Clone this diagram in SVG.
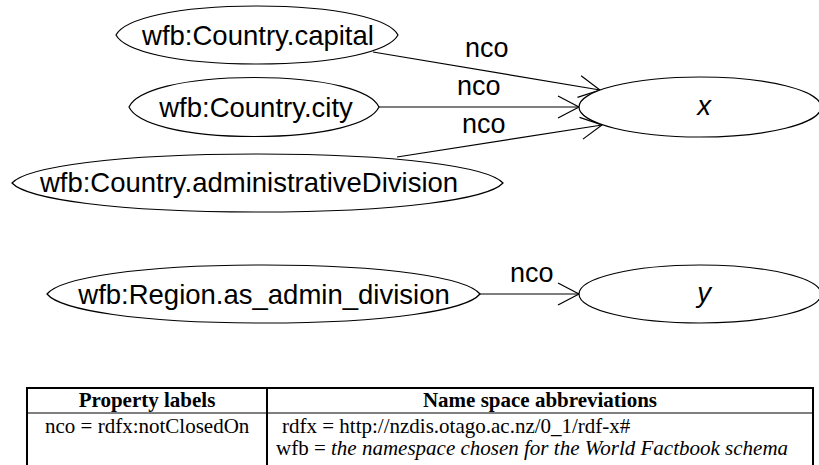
<svg xmlns="http://www.w3.org/2000/svg" width="819" height="465" viewBox="0 0 819 465">
  <style>
    .node ellipse, .node path { fill: #fff; stroke: #000; stroke-width: 1.2; }
    .node text { font-family: "Liberation Sans", Arial, sans-serif; font-size: 27.5px; fill: #000; text-anchor: middle; }
    .node text.var { font-style: italic; }
    .edge line { stroke: #000; stroke-width: 1.2; marker-end: url(#open); }
    .elabel { font-family: "Liberation Sans", Arial, sans-serif; font-size: 27px; fill: #000; }
    .tbl { font-family: "Liberation Serif", "Times New Roman", serif; font-size: 21px; fill: #000; }
    .tbl .hd { font-weight: bold; text-anchor: middle; }
    .rule { stroke: #000; fill: none; }
  </style>
  <defs>
    <!-- open chevron arrowhead -->
    <marker id="open" viewBox="-24 -13 26 26" markerWidth="26" markerHeight="26" refX="0" refY="0" orient="auto" markerUnits="userSpaceOnUse">
      <path d="M-21,-11 L0,0 L-21,11" fill="none" stroke="#000" stroke-width="1.2"/>
    </marker>
  </defs>

  <!-- connectors -->
  <g id="edges" class="edge">
    <line x1="373" y1="52" x2="600" y2="90"/>
    <line x1="379" y1="107" x2="579" y2="107"/>
    <line x1="397" y1="157" x2="602" y2="125"/>
    <line x1="480" y1="294" x2="579" y2="294"/>
  </g>
  <g id="edge-labels" class="elabel">
    <text x="465" y="57">nco</text>
    <text x="457" y="95">nco</text>
    <text x="462" y="133">nco</text>
    <text x="510" y="282">nco</text>
  </g>

  <!-- nodes (property ovals have slightly pointed ends) -->
  <g id="n-capital" class="node">
    <path d="M116,35 C124.46,19.05 175.22,6 257,6 C338.78,6 389.54,19.05 398,35 C389.54,50.95 338.78,64 257,64 C175.22,64 124.46,50.95 116,35Z"/>
    <text x="258" y="45">wfb:Country.capital</text>
  </g>
  <g id="n-city" class="node">
    <path d="M129,107 C136.5,90.775 181.5,77.5 254,77.5 C326.5,77.5 371.5,90.775 379,107 C371.5,123.225 326.5,136.5 254,136.5 C181.5,136.5 136.5,123.225 129,107Z"/>
    <text x="256" y="117">wfb:Country.city</text>
  </g>
  <g id="n-admin" class="node">
    <path d="M12,183 C26.73,167.05 115.11,154 257.5,154 C399.89,154 488.27,167.05 503,183 C488.27,198.95 399.89,212 257.5,212 C115.11,212 26.73,198.95 12,183Z"/>
    <text x="249" y="192">wfb:Country.administrativeDivision</text>
  </g>
  <g id="n-x" class="node">
    <ellipse cx="700" cy="107" rx="121" ry="30"/>
    <text class="var" x="704" y="115">x</text>
  </g>
  <g id="n-region" class="node">
    <path d="M47,294 C59.99,278.05 137.93,265 263.5,265 C389.07,265 467.01,278.05 480,294 C467.01,309.950 389.07,323 263.5,323 C137.93,323 59.99,309.95 47,294Z"/>
    <text x="264" y="304">wfb:Region.as_admin_division</text>
  </g>
  <g id="n-y" class="node">
    <ellipse cx="700" cy="294" rx="121" ry="29"/>
    <text class="var" x="704" y="302">y</text>
  </g>

  <!-- legend table -->
  <g id="legend">
    <line class="rule" x1="26" y1="388" x2="814" y2="388" stroke-width="2"/>
    <line class="rule" x1="27" y1="413" x2="813" y2="413" stroke-width="1"/>
    <line class="rule" x1="27" y1="387" x2="27" y2="465" stroke-width="2"/>
    <line class="rule" x1="267" y1="387" x2="267" y2="465" stroke-width="2"/>
    <line class="rule" x1="813" y1="387" x2="813" y2="465" stroke-width="2"/>
    <g class="tbl">
      <text class="hd" x="147" y="407">Property labels</text>
      <text class="hd" x="540" y="407">Name space abbreviations</text>
      <text x="45" y="433">nco = rdfx:notClosedOn</text>
      <text x="282" y="433">rdfx = http://nzdis.otago.ac.nz/0_1/rdf-x#</text>
      <text x="276" y="455">wfb = <tspan font-style="italic">the namespace chosen for the World Factbook schema</tspan></text>
    </g>
  </g>
</svg>
